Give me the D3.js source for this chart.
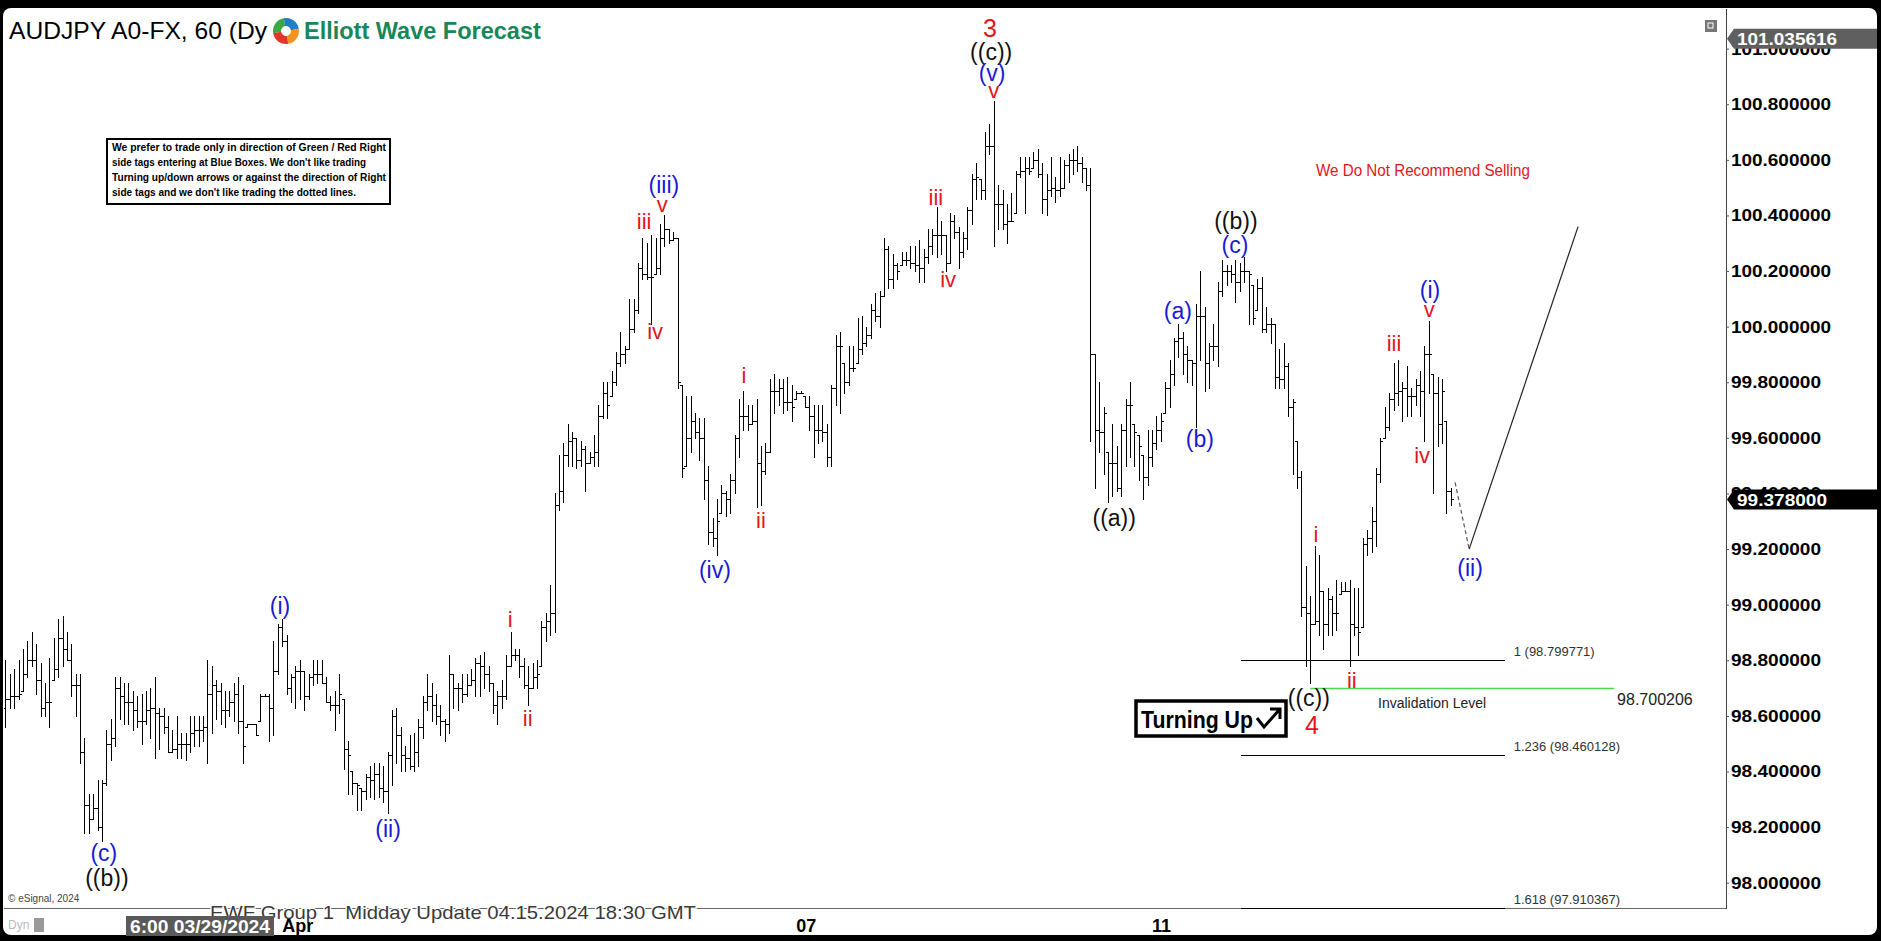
<!DOCTYPE html>
<html><head><meta charset="utf-8">
<script src="https://cdn.jsdelivr.net/npm/d3@7"></script>
<style>
html,body{margin:0;padding:0;background:#000;overflow:hidden}
svg{display:block}
text{font-family:"Liberation Sans",Arial,Helvetica,sans-serif}
</style>
</head><body>
<svg id="chart" width="1881" height="941"></svg>
<script>
// ---------------- DATA ----------------
const opens=[
98.63,98.66,98.67,98.67,98.69,98.75,98.80,98.80,98.73,98.63,
98.65,98.73,98.77,98.88,98.84,98.80,98.71,98.71,98.47,98.28,
98.23,98.27,98.20,98.36,98.50,98.52,98.70,98.67,98.65,98.65,
98.62,98.58,98.58,98.62,98.63,98.61,98.60,98.56,98.47,98.48,
98.50,98.50,98.50,98.54,98.55,98.55,98.56,98.68,98.71,98.69,
98.62,98.62,98.65,98.68,98.58,98.56,98.57,98.57,98.58,98.67,
98.67,98.63,98.76,98.92,98.87,98.70,98.74,98.76,98.76,98.67,
98.74,98.75,98.75,98.72,98.65,98.64,98.64,98.66,98.48,98.40,
98.36,98.34,98.33,98.38,98.37,98.39,98.34,98.33,98.46,98.60,
98.53,98.46,98.45,98.42,98.47,98.56,98.65,98.67,98.64,98.60,
98.58,98.57,98.75,98.70,98.70,98.68,98.71,98.73,98.79,98.78,
98.75,98.72,98.64,98.67,98.67,98.78,98.82,98.82,98.78,98.71,
98.70,98.74,98.78,98.92,98.94,98.97,99.36,99.41,99.54,99.59,
99.60,99.52,99.56,99.51,99.53,99.55,99.68,99.76,99.75,99.80,
99.87,99.90,99.92,99.99,100.06,100.21,100.19,100.18,100.19,100.21,
100.32,100.35,100.31,100.32,99.79,99.50,99.60,99.66,99.62,99.60,
99.45,99.26,99.24,99.33,99.40,99.38,99.45,99.60,99.68,99.68,
99.65,99.66,99.51,99.48,99.55,99.77,99.77,99.78,99.73,99.73,
99.74,99.76,99.75,99.71,99.68,99.63,99.63,99.62,99.53,99.78,
99.93,99.87,99.80,99.85,99.87,99.92,99.94,99.97,100.06,100.04,
100.11,100.28,100.17,100.22,100.22,100.24,100.24,100.23,100.22,100.21,
100.25,100.29,100.33,100.33,100.33,100.23,100.38,100.34,100.27,100.32,
100.42,100.53,100.53,100.49,100.65,100.65,100.44,100.44,100.37,100.38,
100.41,100.55,100.56,100.57,100.57,100.60,100.55,100.46,100.49,100.50,
100.49,100.50,100.58,100.60,100.60,100.59,100.57,100.51,99.90,99.63,
99.62,99.55,99.51,99.51,99.42,99.63,99.72,99.65,99.61,99.54,
99.46,99.53,99.58,99.63,99.69,99.78,99.83,99.95,99.96,99.90,
99.88,99.87,100.04,100.04,99.87,99.93,99.93,100.13,100.20,100.20,
100.19,100.16,100.20,100.20,100.15,100.06,100.14,99.99,100.01,100.01,
99.82,99.81,99.86,99.71,99.59,99.46,98.99,98.97,98.93,98.94,
99.05,98.93,99.02,98.97,99.04,99.05,99.05,98.93,98.92,98.92,
99.22,99.24,99.30,99.47,99.60,99.64,99.74,99.76,99.77,99.78,
99.75,99.75,99.79,99.77,99.90,99.83,99.76,99.65,99.66,99.41];
const highs=[
98.80,98.75,98.77,98.80,98.84,98.87,98.90,98.86,98.79,98.72,
98.81,98.88,98.95,98.96,98.90,98.86,98.75,98.75,98.52,98.32,
98.32,98.37,98.37,98.55,98.59,98.74,98.74,98.72,98.72,98.69,
98.67,98.68,98.69,98.70,98.74,98.63,98.63,98.60,98.55,98.60,
98.54,98.54,98.60,98.60,98.60,98.60,98.80,98.78,98.73,98.72,
98.69,98.69,98.72,98.74,98.71,98.57,98.57,98.57,98.68,98.68,
98.68,98.87,98.93,98.95,98.89,98.75,98.78,98.80,98.76,98.75,
98.80,98.80,98.80,98.74,98.67,98.69,98.75,98.66,98.51,98.40,
98.36,98.34,98.39,98.42,98.43,98.43,98.42,98.47,98.62,98.63,
98.56,98.49,98.53,98.54,98.59,98.67,98.75,98.72,98.68,98.64,
98.59,98.82,98.75,98.72,98.75,98.75,98.77,98.81,98.82,98.83,
98.78,98.72,98.69,98.73,98.82,98.90,98.84,98.84,98.81,98.78,
98.79,98.80,98.94,98.97,99.07,99.40,99.54,99.58,99.65,99.62,
99.60,99.59,99.57,99.55,99.61,99.72,99.80,99.80,99.84,99.91,
99.98,99.93,100.10,100.10,100.23,100.32,100.30,100.33,100.32,100.37,
100.40,100.35,100.34,100.32,99.79,99.75,99.75,99.69,99.67,99.67,
99.50,99.31,99.38,99.43,99.41,99.47,99.61,99.74,99.77,99.72,
99.72,99.74,99.57,99.58,99.81,99.83,99.81,99.81,99.82,99.79,
99.77,99.77,99.75,99.75,99.72,99.72,99.72,99.65,99.79,99.97,
99.98,99.87,99.93,99.93,100.03,100.04,100.00,100.08,100.12,100.13,
100.32,100.29,100.26,100.23,100.27,100.27,100.29,100.29,100.31,100.28,
100.35,100.35,100.43,100.38,100.33,100.41,100.40,100.36,100.34,100.43,
100.55,100.59,100.53,100.70,100.73,100.81,100.51,100.49,100.44,100.48,
100.56,100.61,100.61,100.61,100.63,100.64,100.59,100.55,100.61,100.54,
100.61,100.60,100.62,100.64,100.65,100.61,100.57,100.57,99.90,99.80,
99.71,99.55,99.65,99.57,99.65,99.74,99.80,99.65,99.61,99.54,
99.63,99.63,99.68,99.69,99.80,99.88,99.96,100.01,99.98,99.93,
99.88,100.08,100.20,100.07,99.94,100.01,100.16,100.24,100.22,100.22,
100.24,100.23,100.25,100.20,100.15,100.17,100.18,100.07,100.03,100.01,
99.92,99.94,99.87,99.74,99.59,99.48,99.14,99.03,99.21,99.18,
99.05,99.06,99.03,99.09,99.08,99.08,99.09,99.06,99.06,99.24,
99.27,99.35,99.49,99.60,99.71,99.76,99.87,99.88,99.80,99.86,
99.78,99.81,99.84,99.93,100.02,99.83,99.82,99.81,99.66,99.42];
const lows=[
98.56,98.63,98.63,98.66,98.69,98.74,98.78,98.68,98.60,98.60,
98.56,98.73,98.74,98.78,98.80,98.67,98.60,98.43,98.18,98.18,
98.23,98.19,98.15,98.35,98.44,98.49,98.59,98.57,98.57,98.55,
98.56,98.50,98.57,98.52,98.45,98.48,98.54,98.47,98.47,98.45,
98.45,98.44,98.47,98.49,98.49,98.51,98.43,98.54,98.59,98.57,
98.56,98.60,98.58,98.54,98.43,98.56,98.57,98.53,98.58,98.67,
98.51,98.53,98.75,98.85,98.68,98.65,98.63,98.66,98.62,98.66,
98.71,98.72,98.72,98.65,98.62,98.55,98.61,98.41,98.32,98.32,
98.26,98.26,98.30,98.31,98.30,98.31,98.29,98.25,98.35,98.43,
98.40,98.40,98.41,98.40,98.42,98.52,98.62,98.58,98.57,98.53,
98.51,98.54,98.63,98.62,98.65,98.67,98.71,98.67,98.67,98.70,
98.69,98.61,98.57,98.63,98.66,98.78,98.80,98.74,98.70,98.64,
98.70,98.70,98.78,98.87,98.89,98.90,99.34,99.37,99.50,99.50,
99.49,99.50,99.41,99.51,99.50,99.50,99.67,99.67,99.75,99.79,
99.86,99.87,99.92,99.98,100.05,100.17,100.17,100.01,100.19,100.19,
100.29,100.30,100.31,99.78,99.46,99.50,99.55,99.60,99.52,99.38,
99.22,99.21,99.18,99.33,99.32,99.33,99.40,99.53,99.63,99.63,
99.65,99.35,99.36,99.47,99.55,99.69,99.72,99.69,99.70,99.66,
99.74,99.76,99.71,99.63,99.53,99.58,99.59,99.50,99.50,99.72,
99.69,99.76,99.79,99.84,99.87,99.90,99.93,99.96,100.02,100.00,
100.11,100.14,100.14,100.17,100.22,100.22,100.21,100.20,100.16,100.16,
100.23,100.26,100.25,100.26,100.20,100.23,100.32,100.21,100.25,100.28,
100.37,100.46,100.46,100.46,100.62,100.29,100.35,100.35,100.30,100.38,
100.41,100.54,100.41,100.55,100.57,100.54,100.41,100.40,100.47,100.45,
100.47,100.50,100.52,100.55,100.56,100.52,100.49,99.59,99.42,99.55,
99.47,99.37,99.39,99.41,99.39,99.50,99.53,99.50,99.45,99.38,
99.43,99.50,99.56,99.59,99.69,99.71,99.79,99.89,99.83,99.80,
99.79,99.64,99.88,99.77,99.78,99.88,99.86,100.11,100.15,100.16,
100.09,100.13,100.16,100.01,100.01,100.06,99.98,99.98,99.94,99.78,
99.78,99.78,99.68,99.47,99.42,98.96,98.78,98.72,98.93,98.89,
98.84,98.89,98.89,98.91,99.04,99.05,98.78,98.89,98.82,98.92,
99.18,99.19,99.21,99.44,99.60,99.63,99.70,99.72,99.66,99.68,
99.68,99.72,99.68,99.59,99.76,99.40,99.57,99.58,99.33,99.36];
const closes=[
98.66,98.67,98.67,98.68,98.75,98.80,98.80,98.73,98.63,98.65,
98.65,98.77,98.88,98.84,98.80,98.71,98.71,98.47,98.28,98.23,
98.27,98.20,98.36,98.50,98.52,98.70,98.67,98.65,98.65,98.62,
98.58,98.58,98.62,98.63,98.61,98.60,98.56,98.47,98.48,98.50,
98.50,98.50,98.54,98.55,98.55,98.56,98.68,98.71,98.69,98.62,
98.62,98.65,98.68,98.58,98.49,98.57,98.57,98.53,98.67,98.67,
98.63,98.76,98.92,98.87,98.70,98.74,98.76,98.76,98.67,98.74,
98.75,98.75,98.72,98.65,98.64,98.64,98.68,98.48,98.46,98.36,
98.35,98.33,98.38,98.37,98.39,98.34,98.33,98.46,98.60,98.53,
98.46,98.45,98.42,98.47,98.56,98.65,98.67,98.64,98.60,98.58,
98.57,98.75,98.70,98.70,98.68,98.71,98.73,98.79,98.78,98.75,
98.72,98.64,98.67,98.67,98.78,98.82,98.82,98.78,98.71,98.70,
98.74,98.75,98.92,98.94,98.97,99.36,99.41,99.54,99.59,99.60,
99.52,99.56,99.51,99.53,99.55,99.68,99.76,99.72,99.80,99.87,
99.90,99.92,99.99,100.06,100.21,100.19,100.18,100.18,100.21,100.32,
100.35,100.31,100.32,99.80,99.49,99.60,99.66,99.62,99.60,99.45,
99.26,99.24,99.30,99.40,99.38,99.45,99.60,99.68,99.68,99.65,
99.66,99.51,99.48,99.55,99.77,99.77,99.78,99.73,99.73,99.71,
99.76,99.76,99.71,99.68,99.63,99.63,99.62,99.53,99.78,99.93,
99.93,99.80,99.85,99.85,99.92,99.94,99.97,100.06,100.04,100.11,
100.28,100.17,100.22,100.20,100.24,100.24,100.23,100.22,100.21,100.25,
100.29,100.33,100.33,100.33,100.23,100.38,100.34,100.27,100.32,100.42,
100.53,100.54,100.49,100.65,100.65,100.44,100.44,100.37,100.38,100.38,
100.55,100.56,100.57,100.56,100.60,100.55,100.46,100.49,100.50,100.49,
100.50,100.58,100.60,100.60,100.59,100.57,100.51,99.90,99.63,99.62,
99.69,99.51,99.51,99.42,99.63,99.72,99.72,99.62,99.57,99.46,
99.53,99.58,99.63,99.66,99.78,99.83,99.95,99.96,99.90,99.88,
99.87,100.04,100.04,99.87,99.93,99.93,100.13,100.20,100.20,100.19,
100.16,100.20,100.20,100.19,100.03,100.14,99.99,100.01,100.01,99.82,
99.81,99.86,99.71,99.73,99.46,98.99,98.97,98.93,98.94,99.05,
98.93,99.02,98.97,98.97,99.05,99.05,98.93,98.92,98.90,99.22,
99.24,99.30,99.47,99.59,99.64,99.74,99.76,99.77,99.78,99.75,
99.75,99.79,99.77,99.90,99.90,99.76,99.65,99.77,99.41,99.38];

const yTicks=[98.0,98.2,98.4,98.6,98.8,99.0,99.2,99.4,99.6,99.8,100.0,100.2,100.4,100.6,100.8,101.0];
const xTickIdx=[63,180,261];
const xTickLabels=["Apr","07","11"];

const waveText =["(c)","((b))","(i)","(ii)","i","ii","(iii)","v","iii","iv","(iv)","i","ii","iii","iv","3","((c))","(v)","v","((a))","(a)","(b)","((b))","(c)","i","((c))","4","ii","iii","iv","(i)","v","(ii)"];
const waveIdx  =[22.4,23.1,62.5,87.1,114.9,118.9,149.9,149.5,145.4,147.9,161.5,168.1,172.0,211.8,214.6,224.1,224.4,224.6,225.0,252.4,266.9,271.9,280.1,279.9,298.3,296.7,297.4,306.5,316.1,322.5,324.3,324.1,333.4];
const waveVal  =[98.107,98.017,98.995,98.193,98.945,98.592,100.510,100.438,100.377,99.981,99.125,99.823,99.301,100.466,100.168,101.074,100.988,100.913,100.851,99.312,100.056,99.596,100.380,100.294,99.254,98.664,98.567,98.729,99.941,99.535,100.132,100.060,99.132];
const waveKind =["b","k","b","b","r","r","b","r","r","r","b","r","r","r","r","R","k","b","r","k","b","b","k","b","r","k","R","r","r","r","b","r","b"];

const fibLevels=[98.799771,98.460128,97.910367];
const fibLabels=["1 (98.799771)","1.236 (98.460128)","1.618 (97.910367)"];
const fibRange=[281.3,341.3];
const invalidation=98.700206;
const invalidationRange=[297,366.2];
const lastPrice=99.378;
const highPrice=101.035616;
const projIdx=[330,333.2,358];
const projVal=[99.44,99.20,100.36];

const noticeLines=["We prefer to trade only in direction of Green / Red Right",
"side tags entering at Blue Boxes. We don't like trading",
"Turning up/down arrows or against the direction of Right",
"side tags and we don't like trading the dotted lines."];

// ---------------- LAYOUT ----------------
const W=1881,H=941;
const plotL=4,plotR=1726,plotT=9,plotB=908;
const svg=d3.select("#chart");
const x=d3.scaleLinear().domain([0,329]).range([5.4,5.4+329*4.393]);
const y=d3.scaleLinear().domain([97.909,101.139]).range([plotB,10]);

svg.append("rect").attr("width",W).attr("height",H).attr("fill","#000");
svg.append("rect").attr("x",3).attr("y",8).attr("width",1874).attr("height",927).attr("rx",8).attr("fill","#fff");

const clip=svg.append("defs").append("clipPath").attr("id","pc");
clip.append("rect").attr("x",plotL).attr("y",plotT).attr("width",plotR-plotL).attr("height",plotB-plotT+1);

const g=svg.append("g").attr("clip-path","url(#pc)");

// bars
const bars=g.append("g").attr("stroke","#000").attr("stroke-width",1).attr("shape-rendering","crispEdges");
d3.range(closes.length).forEach(i=>{
  const xi=Math.round(x(i))+0.5;
  bars.append("line").attr("x1",xi).attr("x2",xi).attr("y1",Math.round(y(highs[i]))).attr("y2",Math.round(y(lows[i]))+1);
  const yo=Math.round(y(opens[i]))+0.5, yc=Math.round(y(closes[i]))+0.5;
  bars.append("line").attr("x1",xi-2.5).attr("x2",xi).attr("y1",yo).attr("y2",yo);
  bars.append("line").attr("x1",xi).attr("x2",xi+2.5).attr("y1",yc).attr("y2",yc);
});

// frame lines
svg.append("line").attr("x1",plotR+0.5).attr("x2",plotR+0.5).attr("y1",plotT).attr("y2",plotB+1).attr("stroke","#444");
svg.append("line").attr("x1",plotL).attr("x2",plotR).attr("y1",plotB+0.5).attr("y2",plotB+0.5).attr("stroke","#666");

// fib lines
fibLevels.forEach((v,k)=>{
  const yy=Math.min(Math.round(y(v))+0.5,plotB+0.5);
  svg.append("line").attr("x1",x(fibRange[0])).attr("x2",x(fibRange[1])).attr("y1",yy).attr("y2",yy)
   .attr("stroke","#000").attr("stroke-width",1).attr("shape-rendering","crispEdges");
  g.append("text").attr("x",x(fibRange[1])+9).attr("y",yy-5).attr("font-size",13).attr("fill","#333").text(fibLabels[k]);
});

// invalidation line
{
  const yy=Math.round(y(invalidation))+0.5;
  g.append("line").attr("x1",x(invalidationRange[0])).attr("x2",x(invalidationRange[1])).attr("y1",yy).attr("y2",yy)
   .attr("stroke","#4cd94c").attr("stroke-width",1.3);
  g.append("text").attr("x",x(invalidationRange[1])+3).attr("y",yy+11).attr("font-size",16).attr("fill","#222")
   .attr("dominant-baseline","central").text(invalidation.toFixed(6));
  g.append("text").attr("x",1378).attr("y",703).attr("font-size",14).attr("fill","#222")
   .attr("dominant-baseline","central").text("Invalidation Level");
}

// projection
g.append("line").attr("x1",x(projIdx[0])).attr("y1",y(projVal[0])).attr("x2",x(projIdx[1])).attr("y2",y(projVal[1]))
  .attr("stroke","#555").attr("stroke-width",1.2).attr("stroke-dasharray","4,3");
g.append("line").attr("x1",x(projIdx[1])).attr("y1",y(projVal[1])).attr("x2",x(projIdx[2])).attr("y2",y(projVal[2]))
  .attr("stroke","#222").attr("stroke-width",1.2);

// wave labels
const kindColor={b:"#1a1ad6",k:"#111",r:"#e3161c",R:"#e3161c"};
const kindSize={b:23,k:23,r:22,R:25};
waveText.forEach((t,k)=>{
  g.append("text").attr("x",x(waveIdx[k])).attr("y",y(waveVal[k])).attr("text-anchor","middle")
   .attr("dominant-baseline","central").attr("font-size",kindSize[waveKind[k]]).attr("fill",kindColor[waveKind[k]]).text(t);
});

// texts on plot
g.append("text").attr("x",1316).attr("y",170).attr("font-size",17).attr("fill","#e3161c").attr("dominant-baseline","central")
 .attr("textLength",214).attr("lengthAdjust","spacingAndGlyphs").text("We Do Not Recommend Selling");

// notice box
g.append("rect").attr("x",107).attr("y",139).attr("width",283).attr("height",65).attr("fill","#fff").attr("stroke","#000").attr("stroke-width",2);
const nl=[274,254,274,244];
noticeLines.forEach((t,k)=>{
  g.append("text").attr("x",112).attr("y",147+k*15).attr("dominant-baseline","central").attr("font-size",11.5).attr("font-weight","bold")
   .attr("textLength",nl[k]).attr("lengthAdjust","spacingAndGlyphs").attr("fill","#000").text(t);
});

// turning up box
g.append("rect").attr("x",1136).attr("y",701).attr("width",150).attr("height",35).attr("fill","#fff").attr("stroke","#000").attr("stroke-width",3.5);
g.append("text").attr("x",1141).attr("y",719).attr("dominant-baseline","central").attr("font-size",24).attr("font-weight","bold")
 .attr("textLength",112).attr("lengthAdjust","spacingAndGlyphs").text("Turning Up");
g.append("path").attr("d","M1257,718 L1264,727 L1279,710 M1270,709 L1280,709 L1280,719").attr("fill","none").attr("stroke","#000").attr("stroke-width",3);

// title
svg.append("text").attr("x",9).attr("y",39).attr("font-size",24).attr("textLength",258).attr("lengthAdjust","spacingAndGlyphs").attr("fill","#000").text("AUDJPY A0-FX, 60 (Dy");
{
  const lg=svg.append("g").attr("transform","translate(286,31)");
  const arc=d3.arc().innerRadius(5).outerRadius(13);
  const segs=[["#3aa845",-100,-10],["#1f7fc4",-10,80],["#f39323",80,170],["#e3352b",170,260]];
  segs.forEach(s=>lg.append("path").attr("d",arc({startAngle:s[1]*Math.PI/180,endAngle:s[2]*Math.PI/180})).attr("fill",s[0]));
}
svg.append("text").attr("x",304).attr("y",39).attr("font-size",23.5).attr("font-weight","bold").attr("fill","#17875a").text("Elliott Wave Forecast");

// small icon
svg.append("rect").attr("x",1705).attr("y",20).attr("width",12).attr("height",12).attr("fill","#777");
svg.append("rect").attr("x",1708).attr("y",23).attr("width",5).attr("height",5).attr("fill","none").attr("stroke","#fff").attr("stroke-width",1);

// y axis
const ax=svg.append("g").attr("transform",`translate(${plotR},0)`)
  .call(d3.axisRight(y).tickValues(yTicks).tickFormat(d3.format(".6f")).tickSize(3).tickPadding(2));
ax.select(".domain").remove();
ax.selectAll("line").attr("stroke","#555");
ax.selectAll("text").attr("font-size",17).attr("font-weight","bold").attr("fill","#000")
  .attr("font-family","Liberation Sans, Arial, sans-serif").attr("textLength",100).attr("lengthAdjust","spacingAndGlyphs")
  .each(function(d){ if(d<100) d3.select(this).attr("textLength",90); });

// price tags
function tag(v,fill){
  const yy=y(v);
  svg.append("path").attr("d",`M${plotR+1},${yy} L${plotR+8},${yy-10} L1877,${yy-10} L1877,${yy+10} L${plotR+8},${yy+10} Z`).attr("fill",fill);
  svg.append("text").attr("x",1737).attr("y",yy+1).attr("dominant-baseline","central").attr("font-size",17).attr("font-weight","bold")
   .attr("fill","#fff").attr("textLength",v<100?90:100).attr("lengthAdjust","spacingAndGlyphs").text(v.toFixed(6));
}
tag(highPrice,"#5f5f5f");
tag(lastPrice,"#000");

// bottom strip
svg.append("text").attr("x",8).attr("y",898).attr("dominant-baseline","central").attr("font-size",10).attr("fill","#444").text("© eSignal, 2024");
svg.append("text").attr("x",210).attr("y",912).attr("dominant-baseline","central").attr("font-size",19).attr("fill","#3a3a3a")
  .attr("stroke","#fff").attr("stroke-width",2.5).attr("paint-order","stroke").attr("style","white-space:pre")
  .attr("textLength",486).attr("lengthAdjust","spacingAndGlyphs").text("EWF Group 1  Midday Update 04.15.2024 18:30 GMT");
xTickIdx.forEach((d,k)=>{
  svg.append("text").attr("x",x(d)).attr("y",926).attr("dominant-baseline","central").attr("font-size",18).attr("font-weight","bold").text(xTickLabels[k]);
});
svg.append("rect").attr("x",126).attr("y",916).attr("width",148).attr("height",20).attr("fill","#5a5a5a");
svg.append("text").attr("x",130).attr("y",926.5).attr("dominant-baseline","central").attr("font-size",18).attr("font-weight","bold")
  .attr("fill","#fff").attr("textLength",140).attr("lengthAdjust","spacingAndGlyphs").text("6:00 03/29/2024");
svg.append("text").attr("x",8).attr("y",925).attr("dominant-baseline","central").attr("font-size",12).attr("fill","#bbb").text("Dyn");
svg.append("rect").attr("x",34).attr("y",918).attr("width",10).attr("height",14).attr("fill","#999");
</script>
</body></html>
